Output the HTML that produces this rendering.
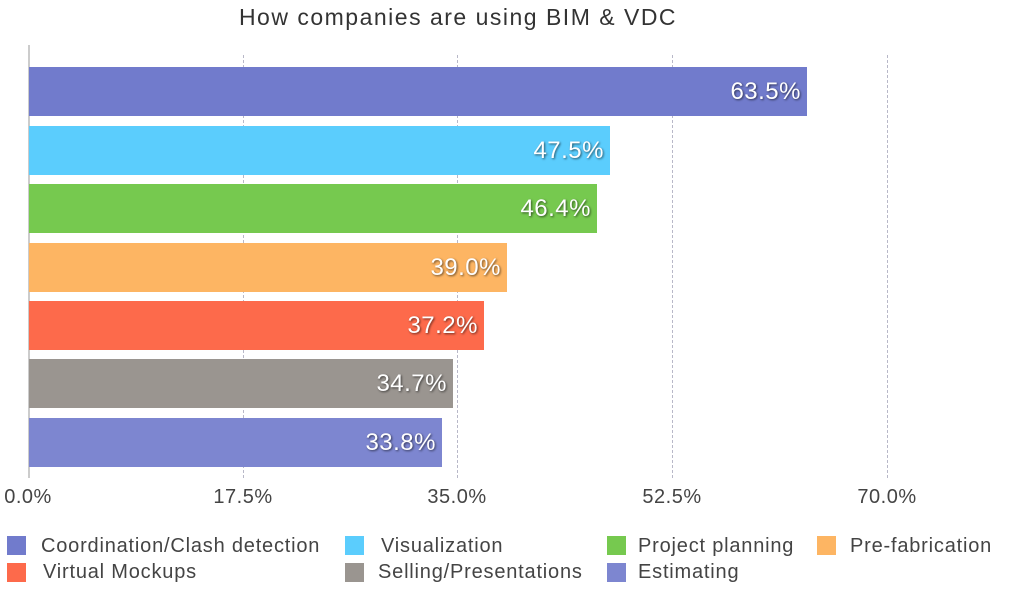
<!DOCTYPE html>
<html><head><style>
body{margin:0;width:1024px;height:599px;background:#fff;font-family:"Liberation Sans",sans-serif;position:relative;overflow:hidden}
.a{position:absolute}
.t{left:0;width:916px;top:4px;text-align:center;font-size:23px;letter-spacing:1.5px;color:#333}
.g{top:55px;height:423px;width:0;border-left:1px dashed #b8b8c8}
.bar{left:29px;height:49px}
.bar span{position:absolute;right:6px;top:11px;color:#fff;font-size:24px;letter-spacing:0.5px;text-shadow:1px 1px 2px rgba(0,0,0,.6)}
.x{top:486px;font-size:20px;letter-spacing:0.5px;color:#444;width:90px;text-align:center}
.sq{width:19px;height:19px}
.l{font-size:20px;letter-spacing:0.8px;color:#444}
</style></head><body>
<div class="a t">How companies are using BIM &amp; VDC</div>
<div class="a g" style="left:243px"></div>
<div class="a g" style="left:457px"></div>
<div class="a g" style="left:672px"></div>
<div class="a g" style="left:887px"></div>
<div class="a" style="left:28px;top:45px;width:2px;height:433px;background:#ccc"></div>
<div class="a bar" style="top:67px;width:778px;background:#717bcc"><span>63.5%</span></div>
<div class="a bar" style="top:126px;width:581px;background:#5bcdfd"><span>47.5%</span></div>
<div class="a bar" style="top:184px;width:568px;background:#76c94f"><span>46.4%</span></div>
<div class="a bar" style="top:243px;width:478px;background:#fdb563"><span>39.0%</span></div>
<div class="a bar" style="top:301px;width:455px;background:#fd6a4b"><span>37.2%</span></div>
<div class="a bar" style="top:359px;width:424px;background:#9a9590"><span>34.7%</span></div>
<div class="a bar" style="top:418px;width:413px;background:#7d86d0"><span>33.8%</span></div>
<div class="a x" style="left:-17px">0.0%</div>
<div class="a x" style="left:198px">17.5%</div>
<div class="a x" style="left:412px">35.0%</div>
<div class="a x" style="left:627px">52.5%</div>
<div class="a x" style="left:842px">70.0%</div>
<div class="a sq" style="left:7px;top:536px;background:#717bcc"></div><div class="a l" style="left:41px;top:535px">Coordination/Clash detection</div>
<div class="a sq" style="left:345px;top:536px;background:#5bcdfd"></div><div class="a l" style="left:381px;top:535px">Visualization</div>
<div class="a sq" style="left:607px;top:536px;background:#76c94f"></div><div class="a l" style="left:638px;top:535px">Project planning</div>
<div class="a sq" style="left:817px;top:536px;background:#fdb563"></div><div class="a l" style="left:850px;top:535px">Pre-fabrication</div>
<div class="a sq" style="left:7px;top:563px;background:#fd6a4b"></div><div class="a l" style="left:43px;top:561px">Virtual Mockups</div>
<div class="a sq" style="left:345px;top:563px;background:#9a9590"></div><div class="a l" style="left:378px;top:561px">Selling/Presentations</div>
<div class="a sq" style="left:607px;top:563px;background:#7d86d0"></div><div class="a l" style="left:638px;top:561px">Estimating</div>
</body></html>
